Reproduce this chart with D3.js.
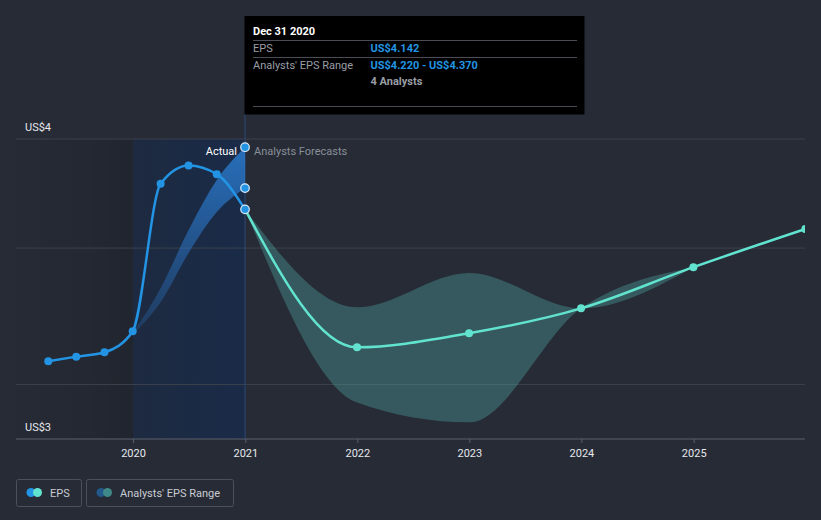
<!DOCTYPE html>
<html><head><meta charset="utf-8">
<script src="https://cdn.jsdelivr.net/npm/d3@7"></script>
<style>
html,body{margin:0;padding:0;background:#262b36;}
svg{display:block;font-family:Roboto,"Noto Sans",sans-serif;}
</style></head>
<body>
<svg id="c" width="821" height="520"></svg>
<script>
// ---- data ----
const actualDates = ["2019-03-31","2019-06-30","2019-09-30","2019-12-31","2020-03-31","2020-06-30","2020-09-30","2020-12-31"];
const actualEps   = [3.585, 3.602, 3.618, 3.695, 4.236, 4.303, 4.271, 4.142];
const pastRangeDates = ["2019-06-30","2019-09-30","2019-12-31","2020-03-31","2020-06-30","2020-09-30","2020-12-31"];
const pastRangeLow   = [3.602, 3.612, 3.684, 3.801, 3.982, 4.132, 4.220];
const pastRangeHigh  = [3.602, 3.622, 3.695, 3.853, 4.066, 4.250, 4.370];
const forecastDates = ["2020-12-31","2021-12-31","2022-12-31","2023-12-31","2024-12-31","2025-12-31"];
const forecastEps   = [4.142, 3.636, 3.688, 3.779, 3.930, 4.070];
const rangeDates = ["2020-12-31","2021-12-31","2022-12-31","2023-12-31","2024-12-31"];
const rangeLow   = [4.142, 3.434, 3.361, 3.779, 3.930];
const rangeHigh  = [4.142, 3.783, 3.909, 3.779, 3.930];
const yearTicks = ["2020","2021","2022","2023","2024","2025"];
const gridValues = [4.0, 3.5];
const yLabelValues = [4.4, 3.3];
const yLabels = ["US$4", "US$3"];
const tooltipTitle = "Dec 31 2020";
const tooltipRows = [["EPS","US$4.142"],["Analysts' EPS Range","US$4.220 - US$4.370"],["","4 Analysts"]];
const legendItems = ["EPS","Analysts' EPS Range"];

const parse = d3.timeParse("%Y-%m-%d");
const svg = d3.select("#c");
const x = d3.scaleTime().domain([parse("2020-01-01"), parse("2025-01-01")]).range([133, 693.7]);
const y = d3.scaleLinear().domain([3.3, 4.4]).range([439, 139]);
const left = 16, right = 805;
const splitX = x(parse("2020-12-31"));

const defs = svg.append("defs");
const g1 = defs.append("linearGradient").attr("id","pastDark").attr("x1",0).attr("x2",1);
g1.append("stop").attr("offset",0).attr("stop-color","#000").attr("stop-opacity",0.02);
g1.append("stop").attr("offset",0.6).attr("stop-color","#000").attr("stop-opacity",0.07);
g1.append("stop").attr("offset",1).attr("stop-color","#000").attr("stop-opacity",0.15);
const g2 = defs.append("linearGradient").attr("id","pastBlue").attr("x1",0).attr("x2",1);
g2.append("stop").attr("offset",0).attr("stop-color","#1d2a40");
g2.append("stop").attr("offset",1).attr("stop-color","#1a2b48");
const g3 = defs.append("linearGradient").attr("id","bandBlue").attr("gradientUnits","userSpaceOnUse")
  .attr("x1",0).attr("x2",0).attr("y1",y(4.37)).attr("y2",y(3.69));
g3.append("stop").attr("offset",0).attr("stop-color","#2b7fd6").attr("stop-opacity",0.8);
g3.append("stop").attr("offset",1).attr("stop-color","#2b7fd6").attr("stop-opacity",0.2);
defs.append("clipPath").attr("id","clip").append("rect")
  .attr("x",left).attr("y",0).attr("width",right-left).attr("height",439);

// shading of past
const yr2020 = x(parse("2020-01-01"));
svg.append("rect").attr("x",left).attr("y",y(4.4)).attr("width",yr2020-left).attr("height",y(3.3)-y(4.4)).attr("fill","url(#pastDark)");
svg.append("rect").attr("x",yr2020).attr("y",y(4.4)).attr("width",splitX-yr2020).attr("height",y(3.3)-y(4.4)).attr("fill","url(#pastBlue)");

// grid
svg.selectAll(".grid").data([4.4].concat(gridValues)).enter().append("line")
  .attr("x1",left).attr("x2",right).attr("y1",d=>y(d)).attr("y2",d=>y(d))
  .attr("stroke","#3c414c").attr("stroke-width",1);

// x axis
const xAxis = d3.axisBottom(x).tickValues(yearTicks.map(t=>parse(t+"-01-01"))).tickFormat(d3.timeFormat("%Y")).tickSize(4).tickPadding(6);
const ax = svg.append("g").attr("transform","translate(0,439)").call(xAxis);
ax.select(".domain").remove();
ax.selectAll(".tick line").attr("stroke","#5a606c");
ax.selectAll(".tick text").attr("fill","#e6e8ec").attr("font-size",11).attr("font-family","Roboto");
svg.append("line").attr("x1",left).attr("x2",right).attr("y1",439).attr("y2",439).attr("stroke","#5a606c");

// y labels
svg.selectAll(".ylab").data(yLabelValues).enter().append("text")
  .attr("x",25).attr("y",d=>y(d)-8).attr("fill","#e6e8ec").attr("font-size",11)
  .text((d,i)=>yLabels[i]);

// hover line
svg.append("line").attr("x1",splitX).attr("x2",splitX).attr("y1",114).attr("y2",439)
  .attr("stroke","#2c4a74").attr("stroke-width",1);

const plot = svg.append("g").attr("clip-path","url(#clip)");

// past range band
const pastBand = pastRangeDates.map((d,i)=>({d:parse(d),lo:pastRangeLow[i],hi:pastRangeHigh[i]}));
plot.append("path").datum(pastBand)
  .attr("d", d3.area().curve(d3.curveMonotoneX).x(d=>x(d.d)).y0(d=>y(d.lo)).y1(d=>y(d.hi)))
  .attr("fill","url(#bandBlue)");

// forecast range band
const band = rangeDates.map((d,i)=>({d:parse(d),lo:rangeLow[i],hi:rangeHigh[i]}));
plot.append("path").datum(band)
  .attr("d", d3.area().curve(d3.curveMonotoneX).x(d=>x(d.d)).y0(d=>y(d.lo)).y1(d=>y(d.hi)))
  .attr("fill","#4fa5a0").attr("fill-opacity",0.38);

// lines
const act = actualDates.map((d,i)=>({d:parse(d),v:actualEps[i]}));
const fc = forecastDates.map((d,i)=>({d:parse(d),v:forecastEps[i]}));
const line = d3.line().curve(d3.curveMonotoneX).x(d=>x(d.d)).y(d=>y(d.v));
plot.append("path").datum(fc).attr("d",line).attr("fill","none").attr("stroke","#62e3cf").attr("stroke-width",2.5);
plot.append("path").datum(act).attr("d",line).attr("fill","none").attr("stroke","#2394e3").attr("stroke-width",2.5);

plot.selectAll(".fp").data(fc.slice(1)).enter().append("circle")
  .attr("cx",d=>x(d.d)).attr("cy",d=>y(d.v)).attr("r",4).attr("fill","#62e3cf");
plot.selectAll(".ap").data(act.slice(0,-1)).enter().append("circle")
  .attr("cx",d=>x(d.d)).attr("cy",d=>y(d.v)).attr("r",4).attr("fill","#2394e3");

// highlighted points at Dec 31 2020
const hl = [actualEps[actualEps.length-1], pastRangeLow[pastRangeLow.length-1], pastRangeHigh[pastRangeHigh.length-1]];
svg.selectAll(".hp").data(hl).enter().append("circle")
  .attr("cx",splitX).attr("cy",d=>y(d)).attr("r",4.3)
  .attr("fill","#2394e3").attr("stroke","#dbe9f7").attr("stroke-width",1.2);

// Actual / Analysts Forecasts labels
svg.append("text").attr("x",splitX-8).attr("y",155).attr("text-anchor","end")
  .attr("fill","#ffffff").attr("font-size",11).text("Actual");
svg.append("text").attr("x",splitX+9).attr("y",155)
  .attr("fill","#8a8f99").attr("font-size",11).text("Analysts Forecasts");

// tooltip
const tt = svg.append("g");
tt.append("rect").attr("x",244.5).attr("y",16).attr("width",340).attr("height",98.5).attr("fill","#000");
tt.append("text").attr("x",253).attr("y",34.5).attr("fill","#fff").attr("font-size",11).attr("font-weight","bold").text(tooltipTitle);
[40.5,57.5,106.5].forEach(yy=>tt.append("line").attr("x1",253).attr("x2",577).attr("y1",yy).attr("y2",yy).attr("stroke","#4a4d55"));
const rowY = [52, 68.5, 84.5];
tooltipRows.forEach((r,i)=>{
  tt.append("text").attr("x",253).attr("y",rowY[i]).attr("fill","#9a9ea6").attr("font-size",11).text(r[0]);
  tt.append("text").attr("x",370.5).attr("y",rowY[i]).attr("fill", i<2 ? "#2394e3" : "#9a9ea6")
    .attr("font-size",11).attr("font-weight","bold").text(r[1]);
});

// legend
const lg = svg.append("g");
const boxes = [{x:16.5,w:65},{x:86.5,w:147}];
const icon = [["#2394e3","#62e3cf"],["#22588a","#3f8a88"]];
legendItems.forEach((t,i)=>{
  const b = boxes[i];
  lg.append("rect").attr("x",b.x).attr("y",479.5).attr("width",b.w).attr("height",27).attr("rx",2)
    .attr("fill","none").attr("stroke","#4a505c");
  lg.append("circle").attr("cx",b.x+14.5).attr("cy",492.5).attr("r",4.5).attr("fill",icon[i][0]);
  lg.append("circle").attr("cx",b.x+21).attr("cy",492.5).attr("r",4.5).attr("fill",icon[i][1]);
  lg.append("text").attr("x",b.x+33.5).attr("y",496.5).attr("fill","#c9ccd2").attr("font-size",11).text(t);
});
</script>
</body></html>
